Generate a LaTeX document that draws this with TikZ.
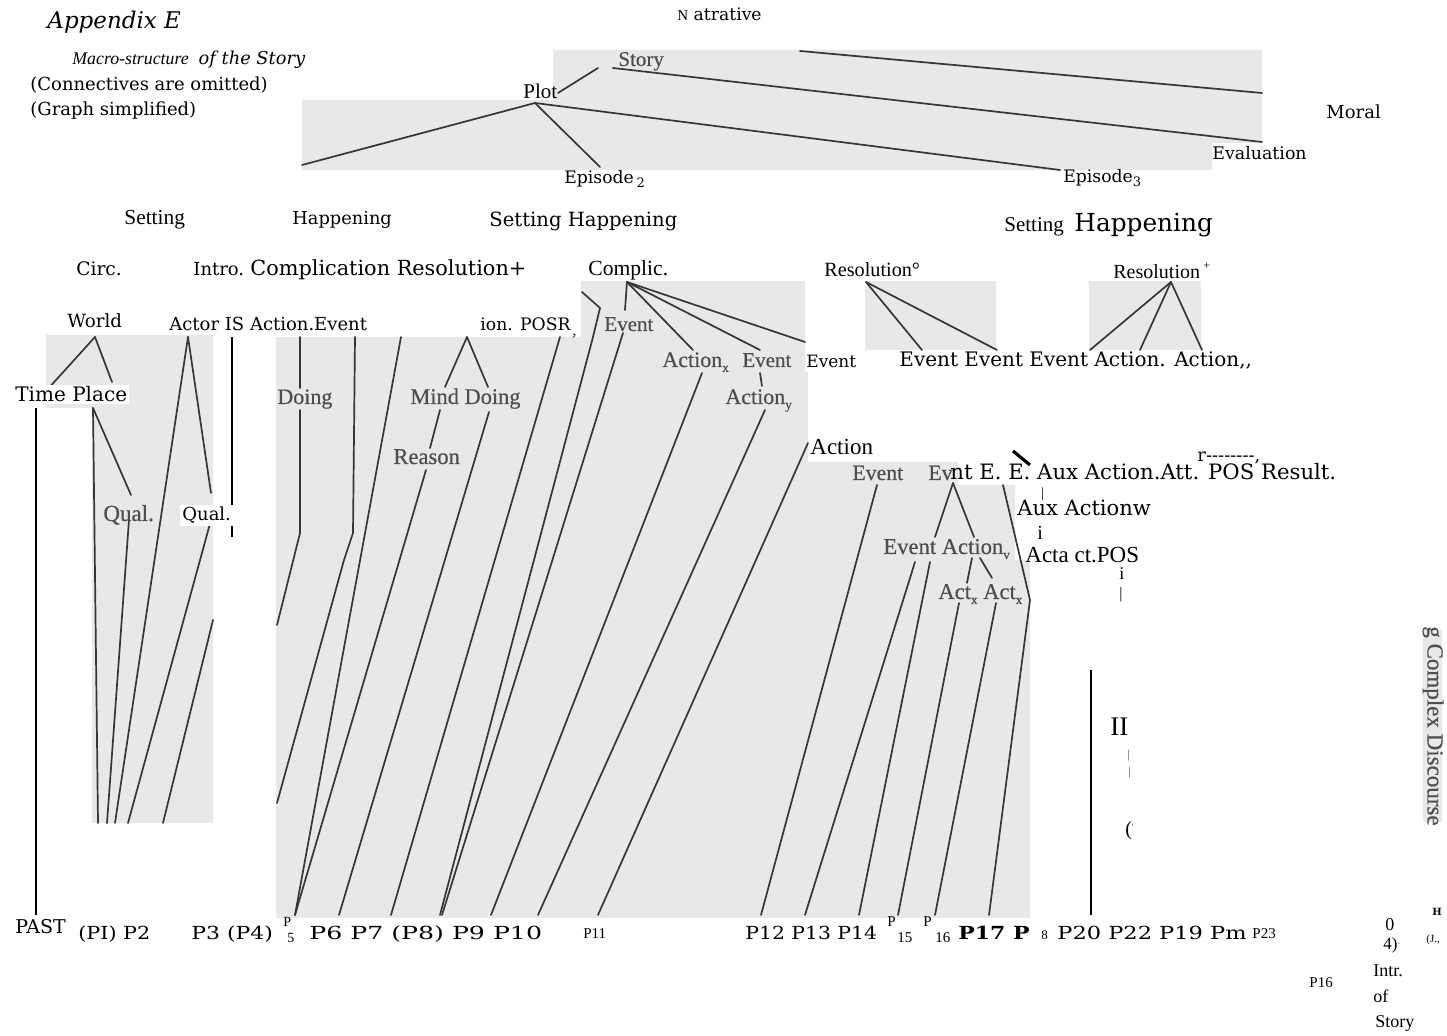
\documentclass[tikz,border=0pt]{standalone}
\usepackage{fontspec}
\usepackage{graphicx}
\setmainfont{DejaVu Serif}
\newfontfamily\fcent{DejaVu Serif}
\newfontfamily\ftim{Liberation Serif}
\newfontfamily\fgray[FakeBold=0.5]{Liberation Serif}
\newcommand\fsz[1]{\fontsize{#1}{#1}\selectfont}
\newcommand\subx[1]{\raisebox{-0.22em}{\fsz{6.5}#1}}
\definecolor{patch}{HTML}{E8E8E8}
\definecolor{ink}{HTML}{363636}
\definecolor{gtext}{HTML}{4E4E4E}
\begin{document}
\begin{tikzpicture}[x=0.5pt,y=-0.5pt,
  patchf/.style={fill=patch,draw=none},
  br/.style={draw=ink,line width=0.85pt,line cap=round,line join=round},
  bar/.style={draw=black,line width=#1},
  lab/.style={anchor=base west,inner sep=0pt,text=black},
  glab/.style={anchor=base west,inner sep=0pt,text=gtext},
  wb/.style={fill=white,inner sep=1pt}]
\path[use as bounding box,fill=white] (0,0) rectangle (1447,1036);

% ---------- grey patches ----------
\fill[patchf] (553,50) -- (1262,50) -- (1262,143) -- (1212,143) -- (1212,170)
  -- (302,170) -- (302,100) -- (553,100) -- cycle;
\fill[patchf] (46,335) -- (213,335) -- (213,823) -- (92,823) -- (92,408) -- (46,408) -- cycle;
\fill[patchf] (276,337) -- (581,337) -- (581,281) -- (805,281) -- (805,372) -- (808,372)
  -- (808,462) -- (958,462) -- (958,485) -- (1015,485) -- (1015,560) -- (1030,560)
  -- (1030,918) -- (276,918) -- cycle;
\fill[patchf] (865,281) rectangle (996,350);
\fill[patchf] (1089,281) rectangle (1201,350);
\fill[patchf] (1423,630) rectangle (1442,822);

% ---------- coordinates ----------
% top
\coordinate (stL) at (598,68); \coordinate (plR) at (558,93);
\coordinate (stR) at (613,68); \coordinate (evT) at (1262,142);
\coordinate (naB) at (800,51); \coordinate (moT) at (1262,93);
\coordinate (plB) at (535,103); \coordinate (seT) at (302,165);
\coordinate (e2T) at (600,167); \coordinate (e3T) at (1060,170);
% left patch
\coordinate (wo) at (95,337); \coordinate (tiT) at (47,390); \coordinate (plaT) at (112,382);
\coordinate (plaB) at (93,408); \coordinate (q1T) at (131,495); \coordinate (q1B) at (129,520);
\coordinate (ac) at (188,337); \coordinate (q2T) at (211,493); \coordinate (q2B) at (211,520);
\coordinate (ed1) at (213,620);
\coordinate (b01) at (98,823); \coordinate (b02) at (107,823); \coordinate (b03) at (115,823);
\coordinate (b04) at (128,823); \coordinate (b05) at (163,823);
% middle patch
\coordinate (m1a) at (300,337); \coordinate (m1b) at (300,388);
\coordinate (m1c) at (300,410); \coordinate (m1d) at (300,533); \coordinate (m1e) at (277,625);
\coordinate (m2a) at (355,337); \coordinate (m2b) at (353,533); \coordinate (m2c) at (344,560);
\coordinate (m2d) at (277,803);
\coordinate (m3a) at (401,337);
\coordinate (md) at (467,337); \coordinate (miT) at (445,387); \coordinate (doT) at (488,387);
\coordinate (miB) at (440,410); \coordinate (reT) at (430,448);
\coordinate (reB) at (426,470); \coordinate (doB) at (489,412);
\coordinate (m4a) at (560,337);
\coordinate (poA) at (582,292); \coordinate (poB) at (600,308); \coordinate (poC) at (593,337);
\coordinate (cp) at (627,282); \coordinate (cpE) at (625,310); \coordinate (cpAx) at (693,350);
\coordinate (cpE2) at (760,350); \coordinate (cpR) at (805,342);
\coordinate (evB) at (623,333); \coordinate (axB) at (702,373);
\coordinate (e2B) at (760,373); \coordinate (ayT) at (762,386); \coordinate (ayB) at (765,410);
\coordinate (acB) at (808,443);
% resolution patches
\coordinate (r0) at (866,282); \coordinate (r0a) at (922,350); \coordinate (r0b) at (997,350);
\coordinate (r1) at (1171,282); \coordinate (r1a) at (1090,350); \coordinate (r1b) at (1140,350);
\coordinate (r1c) at (1202,350);
% right lower
\coordinate (evR) at (877,485); \coordinate (ap) at (953,483);
\coordinate (elT) at (935,537); \coordinate (avT) at (974,537);
\coordinate (elB) at (915,562); \coordinate (elB2) at (930,562);
\coordinate (avB1) at (972,558); \coordinate (x1T) at (967,583);
\coordinate (avB2) at (980,558); \coordinate (x2T) at (992,578);
\coordinate (x1B) at (959,603); \coordinate (x2B) at (996,603);
\coordinate (eeT) at (1003,485); \coordinate (eeM) at (1030,600);
% bottom ends
\coordinate (p01) at (295,915); \coordinate (p02) at (339,915); \coordinate (p03) at (391,915);
\coordinate (p04) at (440,915); \coordinate (p05) at (442,915); \coordinate (p06) at (491,915);
\coordinate (p07) at (538,915); \coordinate (p08) at (598,915); \coordinate (p09) at (761,915);
\coordinate (p10) at (805,915); \coordinate (p11) at (859,915); \coordinate (p12) at (898,915);
\coordinate (p13) at (935,915); \coordinate (p14) at (989,915);

% ---------- tree branches ----------
\draw[br] (plR) -- (stL);
\draw[br] (stR) -- (evT);
\draw[br] (naB) -- (moT);
\draw[br] (plB) -- (seT);
\draw[br] (plB) -- (e2T);
\draw[br] (plB) -- (e3T);

\draw[br] (wo) -- (tiT);
\draw[br] (wo) -- (plaT);
\draw[br] (plaB) -- (b01);
\draw[br] (plaB) -- (q1T);
\draw[br] (q1B) -- (b02);
\draw[br] (ac) -- (b03);
\draw[br] (ac) -- (q2T);
\draw[br] (q2B) -- (b04);
\draw[br] (ed1) -- (b05);

\draw[br] (m1a) -- (m1b);
\draw[br] (m1c) -- (m1d) -- (m1e);
\draw[br] (m2a) -- (m2b) -- (m2c) -- (m2d);
\draw[br] (m3a) -- (p01);
\draw[br] (md) -- (miT);
\draw[br] (md) -- (doT);
\draw[br] (miB) -- (reT);
\draw[br] (reB) -- (p01);
\draw[br] (doB) -- (p02);
\draw[br] (m4a) -- (p03);
\draw[br] (poA) -- (poB) -- (poC) -- (p04);
\draw[br] (cp) -- (cpE);
\draw[br] (cp) -- (cpAx);
\draw[br] (cp) -- (cpE2);
\draw[br] (cp) -- (cpR);
\draw[br] (evB) -- (p05);
\draw[br] (axB) -- (p06);
\draw[br] (e2B) -- (ayT);
\draw[br] (ayB) -- (p07);
\draw[br] (acB) -- (p08);

\draw[br] (r0) -- (r0a);
\draw[br] (r0) -- (r0b);
\draw[br] (r1) -- (r1a);
\draw[br] (r1) -- (r1b);
\draw[br] (r1) -- (r1c);

\draw[br] (evR) -- (p09);
\draw[br] (ap) -- (elT);
\draw[br] (ap) -- (avT);
\draw[br] (elB) -- (p10);
\draw[br] (elB2) -- (p11);
\draw[br] (avB1) -- (x1T);
\draw[br] (avB2) -- (x2T);
\draw[br] (x1B) -- (p12);
\draw[br] (x2B) -- (p13);
\draw[br] (eeT) -- (eeM) -- (p14);

% ---------- black rules ----------
\coordinate (v1a) at (36,408); \coordinate (v1b) at (36,915);
\coordinate (v2a) at (232,337); \coordinate (v2b) at (232,537);
\coordinate (v3a) at (1091,670); \coordinate (v3b) at (1091,915);
\coordinate (dga) at (1013,451); \coordinate (dgb) at (1030,465);
\draw[bar=1pt] (v1a) -- (v1b);
\draw[bar=0.8pt] (v2a) -- (v2b);
\draw[bar=1.4pt] (v3a) -- (v3b);
\draw[bar=1.6pt] (dga) -- (dgb);

% ---------- header texts ----------
\node[lab,font={\fcent\itshape\fsz{11.5}}] (appx) at (47,29) {Appendix E};
\node[lab] (macro) at (72,65) {{\ftim\itshape\fsz{8.9}Macro-structure}\hspace{0.5em}{\fcent\itshape\fsz{8.9}of the Story}};
\node[lab,font={\fcent\fsz{9}}] (conn) at (30,91) {(Connectives are omitted)};
\node[lab,font={\fcent\fsz{9}}] (graph) at (30,116) {(Graph simplified)};
\node[lab,font={\fcent\fsz{8.6}}] (narr) at (677,21) {{\ftim\fsz{7.5}N} atrative};

% ---------- upper labels ----------
\node[glab,font={\fgray\fsz{10.5}}] (story) at (618,66) {Story};
\node[lab,font={\ftim\fsz{10.5}}] (plot) at (523,99) {Plot};
\node[lab,font={\fcent\fsz{9}}] (moral) at (1326,119) {Moral};
\node[lab,font={\fcent\fsz{8.7}}] (evalu) at (1212,160) {Evaluation};
\node[lab,font={\fcent\fsz{8.6}}] (ep2) at (564,184) {Episode\,\subx{2}};
\node[lab,font={\fcent\fsz{8.6}}] (ep3) at (1063,183) {Episode\subx{3}};
\node[lab,font={\ftim\fsz{10.7}}] (set1) at (124,225) {Setting};
\node[lab,font={\fcent\fsz{8.9}}] (hap1) at (292,225) {Happening};
\node[lab,font={\fcent\fsz{9.8}}] (sethap) at (489,227) {Setting Happening};
\node[lab,font={\ftim\fsz{10.5}}] (set3) at (1004,232) {Setting};
\node[lab,font={\fcent\fsz{12.4}}] (hap3) at (1074,232) {Happening};
\node[lab,font={\fcent\fsz{9.3}}] (circ) at (76,276) {Circ.};
\node[lab,font={\fcent\fsz{9}}] (intro) at (193,276) {Intro.};
\node[lab,font={\fcent\fsz{10.4}}] (compl) at (250,276) {Complication Resolution+};
\node[lab,font={\ftim\fsz{10.8}}] (complic) at (588,276) {Complic.};
\node[lab,font={\ftim\fsz{10.1}}] (res0) at (824,277) {Resolution°};
\node[lab,font={\ftim\fsz{10}}] (res1) at (1113,279) {Resolution\,\raisebox{0.45em}{\fsz{6}+}};
\node[lab,font={\fcent\fsz{9.1}}] (world) at (67,328) {World};
\node[lab,font={\fcent\fsz{9}}] (actor) at (169,331) {Actor IS Action.Event};
\node[lab,font={\fcent\fsz{8.6}}] (posr) at (480,331) {ion. POSR};
\node[glab,font={\fgray\fsz{8}}] (posrs) at (572,335) {,};
\node[lab,wb,font={\fcent\fsz{10}}] (tipl) at (13,402) {Time Place};

% ---------- grey scanned labels ----------
\node[glab,font={\fgray\fsz{10.5}}] (gev1) at (604,331) {Event};
\node[glab,font={\fgray\fsz{11}}] (gax) at (662,367) {Action\subx{x}};
\node[glab,font={\fgray\fsz{10.5}}] (gev2) at (742,367) {Event};
\node[glab,font={\fgray\fsz{11}}] (gdo) at (277,404) {Doing};
\node[glab,font={\fgray\fsz{11.2}}] (gmd) at (410,404) {Mind Doing};
\node[glab,font={\fgray\fsz{11}}] (gay) at (725,404) {Action\subx{y}};
\node[glab,font={\fgray\fsz{11.3}}] (gre) at (393,464) {Reason};
\node[glab,font={\fgray\fsz{11.5}}] (gq1) at (103,521) {Qual.};
\node[glab,font={\fgray\fsz{10.9}}] (gev3) at (852,480) {Event};
\node[glab,font={\fgray\fsz{10.9}}] (gev4) at (928,480) {Ev};
\node[glab,font={\fgray\fsz{11.3}}] (geav) at (883,554) {Event Action\subx{v}};
\node[glab,font={\fgray\fsz{11.3}}] (gactx) at (938,599) {Act\subx{x} Act\subx{x}};
\node[glab,rotate=-90,anchor=center,font={\fgray\fsz{11.5}}] (cdis) at (1433,726) {g Complex Discourse};

% ---------- black labels in the middle ----------
\node[lab,wb,font={\fcent\fsz{9}}] (q2) at (180,521) {Qual.};
\node[lab,font={\fcent\fsz{8.5}}] (ev5) at (806,368) {Event};
\node[lab,font={\fcent\fsz{10}}] (evrow) at (899,367) {Event Event Event Action. Action,,};
\node[lab,font={\ftim\fsz{11.5}}] (actn) at (810,455) {Action};
\node[lab,font={\fcent\fsz{10.6}}] (ntrow) at (950,480) {nt E. E. Aux Action.Att. POS Result.};
\node[lab,font={\fcent\fsz{9}}] (rdash) at (1197,462) {r--------,};
\node[lab,font={\ftim\fsz{7}}] (bar1) at (1041,498) {|};
\node[lab,font={\fcent\fsz{10.5}}] (auxa) at (1017,516) {Aux Actionw};
\node[lab,font={\ftim\fsz{10}}] (ii1) at (1037,540) {i};
\node[lab,font={\ftim\fsz{11.5}}] (acta) at (1025,563) {Acta ct.POS};
\node[lab,font={\ftim\fsz{9}}] (ii2) at (1119,580) {i};
\node[lab,font={\ftim\fsz{8}}] (bar2) at (1119,599) {|};
\node[lab,font={\ftim\fsz{13.4}}] (twoI) at (1110,736) {II};
\node[lab,font={\ftim\fsz{6}},text=gtext] (bar3) at (1127,759) {|};
\node[lab,font={\ftim\fsz{6}},text=gtext] (bar4) at (1128,776) {|};
\node[lab,font={\ftim\fsz{10}}] (paren) at (1125,836) {(\raisebox{0.3em}{\fsz{4}'}};

% ---------- bottom row ----------
\node[lab,font={\fcent\fsz{9.5}}] (past) at (15,934) {PAST};
\node[lab,font={\fcent\fsz{9}}] (bp1) at (78,940) {\scalebox{1.15}[1]{(PI) P2}};
\node[lab,font={\fcent\fsz{9}}] (bp3) at (191,940) {\scalebox{1.22}[1]{P3 (P4)}};
\node[lab,font={\ftim\fsz{7}}] (bp5a) at (283,927) {P};
\node[lab,font={\ftim\fsz{7}}] (bp5b) at (287,943) {5};
\node[lab,font={\fcent\fsz{9}}] (bp6) at (309,940) {\scalebox{1.4}[1]{P6 P7 (P8) P9 P10}};
\node[lab,font={\ftim\fsz{7.5}}] (bp11) at (583,939) {P11};
\node[lab,font={\fcent\fsz{9}}] (bp12) at (745,940) {\scalebox{1.13}[1]{P12 P13 P14}};
\node[lab,font={\ftim\fsz{7.5}}] (bp15a) at (887,927) {P};
\node[lab,font={\ftim\fsz{7.5}}] (bp15b) at (897,943) {15};
\node[lab,font={\ftim\fsz{7.5}}] (bp16a) at (923,927) {P};
\node[lab,font={\ftim\fsz{7.5}}] (bp16b) at (935,943) {16};
\node[lab,font={\fcent\bfseries\fsz{9}}] (bp17) at (958,940) {\scalebox{1.22}[1]{P17 P}};
\node[lab,font={\ftim\fsz{6.5}}] (bp18) at (1041,940) {8};
\node[lab,font={\fcent\fsz{9}}] (bp20) at (1057,940) {\scalebox{1.25}[1]{P20 P22 P19 Pm}};
\node[lab,font={\ftim\fsz{7.5}}] (bp23) at (1252,939) {P23};

% ---------- bottom right fragments ----------
\node[lab,font={\ftim\fsz{9}}] (zero) at (1385,931) {0};
\node[lab,font={\ftim\fsz{8.5}}] (four) at (1383,950) {4)\raisebox{0.2em}{\fsz{4}·}};
\node[lab,font={\ftim\fsz{7.5}}] (p16r) at (1309,988) {P16};
\node[lab,font={\ftim\fsz{9}}] (intr) at (1373,977) {Intr.};
\node[lab,font={\ftim\fsz{9}}] (of) at (1373,1003) {of};
\node[lab,font={\ftim\fsz{9}}] (storyb) at (1375,1028) {Story};
\node[lab,font={\ftim\fsz{5.5}}] (jay) at (1426,943) {(J.,};
\node[lab,font={\fcent\bfseries\fsz{5}}] (hbr) at (1432,916) {H};
\end{tikzpicture}
\end{document}
